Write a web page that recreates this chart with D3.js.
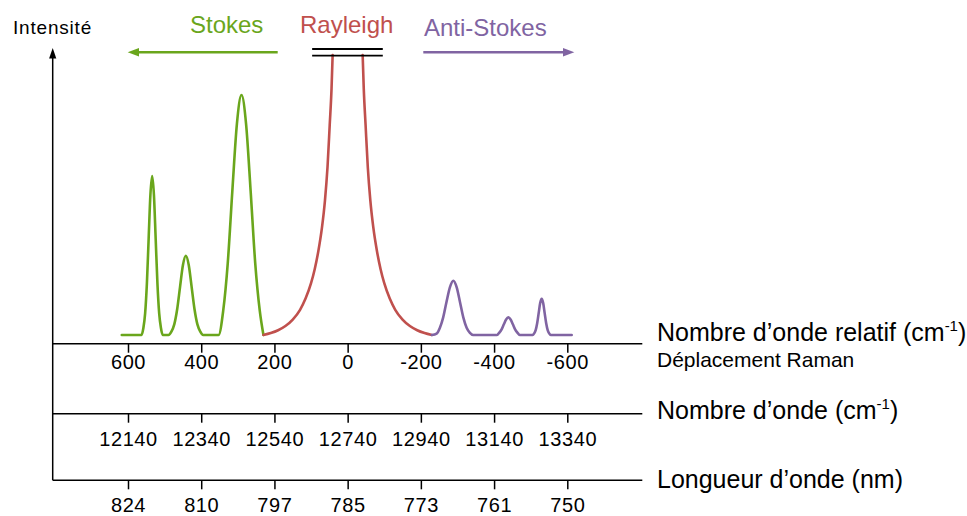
<!DOCTYPE html>
<html><head><meta charset="utf-8">
<script src="https://cdn.jsdelivr.net/npm/d3@7/dist/d3.min.js"></script>
<style>
html,body{margin:0;padding:0;background:#fff;}
svg{display:block;font-family:"Liberation Sans",Arial,sans-serif;}
</style></head>
<body>
<svg id="chart" width="967" height="516"></svg>
<script>
// ---- data ----
const shiftTicks = [600, 400, 200, 0, -200, -400, -600];
const shiftLabels = ["600", "400", "200", "0", "-200", "-400", "-600"];
const wavenumberTicks = [12140, 12340, 12540, 12740, 12940, 13140, 13340];
const wavelengthLabels = ["824", "810", "797", "785", "773", "761", "750"];
const seriesNames = ["Stokes", "Rayleigh", "Anti-Stokes"];
const seriesColors = ["#6aa61c", "#c0504d", "#8064a2"];
const axisTitles = ["Nombre d’onde relatif (cm", "Nombre d’onde (cm", "Longueur d’onde (nm)"];
const axisSubtitle = "Déplacement Raman";
const yTitle = "Intensité";

// spectrum [Raman shift cm-1, intensity (arb.)]
const stokes = [
  [617,0],[563,0],[558,2.5],[553.2,7.7],[548.4,18.4],[543.6,34.4],[538.8,50.1],[534,56.8],
  [529.2,50.1],[524.4,34.4],[519.6,18.4],[514.8,7.7],[510,2.5],[505.2,0],
  [489.4,0],[481.5,1.2],[473.6,3.8],[465.7,9.2],[457.8,17.2],[449.9,25.0],[442,28.3],
  [434.1,25.0],[426.2,17.2],[418.3,9.2],[410.4,3.8],[402.5,1.2],[394.6,0],
  [352.5,0],[340,8.6],[327.5,25.7],[315,51.4],[302.5,75.4],[290,85.7],
  [277.5,75.4],[265,51.4],[252.5,25.7],[240,8.6],[230,0]
];
const rayleighLeft = [
  [230,0],[210,0.7],[190,1.7],[170,3.2],[150,5.5],[130,9],[115,13],[100,18.5],[90,23.5],
  [80,30],[70,38.5],[62,48],[55,60],[49,75],[44,88],[41,100]
];
const rayleighRight = [
  [-41,100],[-44,88],[-49,75],[-55,60],[-62,48],[-70,38.5],[-80,30],[-90,23.5],[-100,18.5],
  [-115,13],[-130,9],[-150,5.5],[-170,3.2],[-190,1.7],[-210,0.7],[-230,0]
];
const antiStokes = [
  [-230,0],[-243,0.5],[-252,2.6],[-261,6.3],[-270,11.8],[-279.5,17.1],[-288.6,19.4],
  [-297.7,17.1],[-306.8,11.8],[-315.9,6.3],[-325,2.6],[-334,0.8],[-343,0],
  [-408,0],[-414.4,0.85],[-420.6,2.05],[-426.7,3.82],[-432.9,5.56],[-439,6.3],
  [-445.1,5.56],[-451.3,3.82],[-457.4,2.05],[-463.6,0.85],[-470,0],
  [-505.4,0],[-509.5,0.57],[-513.6,1.75],[-517.7,4.2],[-521.8,7.8],[-525.9,11.4],[-530,12.9],
  [-534.1,11.4],[-538.2,7.8],[-542.3,4.2],[-546.4,1.75],[-550.5,0.57],[-554.6,0],[-612,0]
];

// ---- layout ----
const svg = d3.select("#chart");
const xLeft = 128, xRight = 567.3;
const axisX0 = 52.7, axisX1 = 642.3;
const axisY = [343.7, 413.7, 480.3];

const x = d3.scaleLinear().domain([600, -600]).range([xLeft, xRight]);
const xw = d3.scaleLinear().domain([12140, 13340]).range([xLeft, xRight]);
const xl = d3.scalePoint().domain(wavelengthLabels).range([xLeft, xRight]);
const y = d3.scaleLinear().domain([0, 100]).range([335, 55]);

const line = d3.line().x(d => x(d[0])).y(d => y(d[1])).curve(d3.curveMonotoneX);

// spectrum
const lines = [[stokes, 0], [rayleighLeft, 1], [rayleighRight, 1], [antiStokes, 2]];
lines.forEach(([data, i]) => {
  svg.append("path").attr("d", line(data)).attr("fill", "none")
    .attr("stroke", seriesColors[i]).attr("stroke-width", 2.6)
    .attr("stroke-linejoin", "round").attr("stroke-linecap", "round");
});

// break marks on Rayleigh peak
[49, 55.7].forEach(yy => {
  svg.append("line").attr("x1", x(97)).attr("x2", x(-96)).attr("y1", yy).attr("y2", yy)
    .attr("stroke", "#000").attr("stroke-width", 1.8);
});

// axes
function styleAxis(g, fs, ls) {
  g.select(".domain").remove();
  g.selectAll(".tick line").attr("stroke", "#000").attr("stroke-width", 1.5);
  g.selectAll(".tick text").attr("fill", "#000").style("font-size", fs + "px")
    .style("letter-spacing", ls + "px").style("font-family", '"Liberation Sans",Arial,sans-serif');
}
const g1 = svg.append("g").attr("transform", `translate(0,${axisY[0]})`)
  .call(d3.axisBottom(x).tickValues(shiftTicks).tickSize(9).tickPadding(2.5)
    .tickFormat((d, i) => shiftLabels[i]));
styleAxis(g1, 20, 0.6);
const g2 = svg.append("g").attr("transform", `translate(0,${axisY[1]})`)
  .call(d3.axisBottom(xw).tickValues(wavenumberTicks).tickSize(9).tickPadding(9)
    .tickFormat(d => String(d)));
styleAxis(g2, 20, 0.6);
const g3 = svg.append("g").attr("transform", `translate(0,${axisY[2]})`)
  .call(d3.axisBottom(xl).tickSize(9).tickPadding(8.5));
styleAxis(g3, 20, 0.6);

axisY.forEach(yy => {
  svg.append("line").attr("x1", axisX0).attr("x2", axisX1).attr("y1", yy).attr("y2", yy)
    .attr("stroke", "#000").attr("stroke-width", 1.5);
});

// vertical axis with arrow
svg.append("line").attr("x1", axisX0).attr("x2", axisX0).attr("y1", axisY[2]).attr("y2", 56)
  .attr("stroke", "#000").attr("stroke-width", 1.5);
svg.append("path").attr("d", `M${axisX0},48 L${axisX0 + 3.6},58.5 L${axisX0 - 3.6},58.5 Z`).attr("fill", "#000");

svg.append("text").attr("x", 13).attr("y", 34).text(yTitle)
  .style("font-size", "19px").style("letter-spacing", "0.8px").attr("fill", "#000");

// series titles and arrows
const titleFont = "24px";
svg.append("text").attr("x", 190).attr("y", 33.3).text(seriesNames[0])
  .style("font-size", titleFont).attr("fill", seriesColors[0]);
svg.append("text").attr("x", 300).attr("y", 33.3).text(seriesNames[1])
  .style("font-size", titleFont).attr("fill", seriesColors[1]);
svg.append("text").attr("x", 424).attr("y", 36).text(seriesNames[2])
  .style("font-size", titleFont).attr("fill", seriesColors[2]);

const arrowY = 52.3;
// Stokes arrow (pointing left)
svg.append("line").attr("x1", 277.7).attr("x2", 136).attr("y1", arrowY).attr("y2", arrowY)
  .attr("stroke", seriesColors[0]).attr("stroke-width", 2.6);
svg.append("path").attr("d", `M127.7,${arrowY} L139,${arrowY - 4.3} L139,${arrowY + 4.3} Z`).attr("fill", seriesColors[0]);
// Anti-Stokes arrow (pointing right)
svg.append("line").attr("x1", 423.3).attr("x2", 566).attr("y1", arrowY).attr("y2", arrowY)
  .attr("stroke", seriesColors[2]).attr("stroke-width", 2.6);
svg.append("path").attr("d", `M574.3,${arrowY} L563,${arrowY - 4.3} L563,${arrowY + 4.3} Z`).attr("fill", seriesColors[2]);

// axis titles on the right
function axisTitle(yy, txt, sup) {
  const t = svg.append("text").attr("x", 657).attr("y", yy).style("font-size", "25px").attr("fill", "#000");
  t.append("tspan").text(txt);
  if (sup) {
    t.append("tspan").text("-1").style("font-size", "15px").attr("dy", -10);
    t.append("tspan").text(")").attr("dy", 10);
  }
}
axisTitle(341, axisTitles[0], true);
svg.append("text").attr("x", 657).attr("y", 367).text(axisSubtitle)
  .style("font-size", "21px").attr("fill", "#000");
axisTitle(419, axisTitles[1], true);
axisTitle(488, axisTitles[2], false);
</script>
</body></html>
